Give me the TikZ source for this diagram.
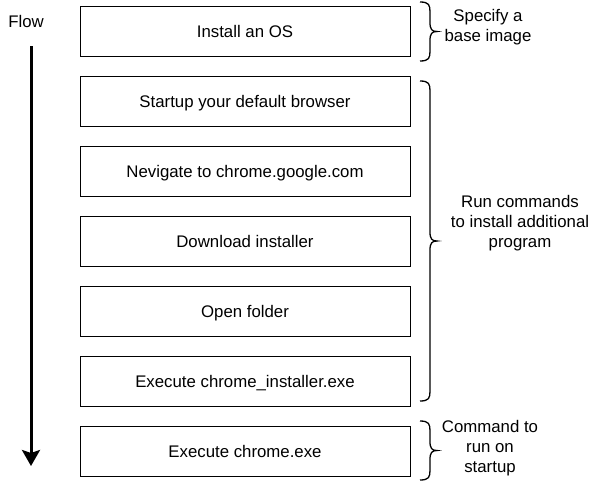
\documentclass[tikz,border=0pt]{standalone}
\usepackage{fontspec}
\setmainfont{Liberation Sans}
\usetikzlibrary{arrows.meta}
\tikzset{
  stepbox/.style={draw=black, line width=1pt, minimum width=330pt, minimum height=50pt, inner sep=0pt, text height=12pt, text depth=0pt, font=\fontsize{16.8pt}{20pt}\selectfont},
  lbl/.style={align=center, font=\fontsize{16.8pt}{20pt}\selectfont, inner sep=0pt},
  bracestyle/.style={draw=black, line width=1.3pt},
}
\newcommand{\mybrace}[3]{% x, ytop, ybot
  \pgfmathsetmacro{\ym}{(#2+#3)/2}
  \draw[bracestyle] (#1,#2) .. controls (#1+9,#2) and (#1+10,#2+3) .. (#1+10,#2+10)
    -- (#1+10,\ym-9) .. controls (#1+10,\ym-2) and (#1+12,\ym) .. (#1+17,\ym)
    .. controls (#1+12,\ym) and (#1+10,\ym+2) .. (#1+10,\ym+9)
    -- (#1+10,#3-10) .. controls (#1+10,#3-3) and (#1+9,#3) .. (#1,#3);
}
\begin{document}
\begin{tikzpicture}[x=1pt,y=-1pt]
\useasboundingbox (0,0) rectangle (601,482);
\node[stepbox] (b1) at (245,31) {Install an OS};
\node[stepbox] (b2) at (245,101) {Startup your default browser};
\node[stepbox] (b3) at (245,171) {Nevigate to chrome.google.com};
\node[stepbox] (b4) at (245,241) {Download installer};
\node[stepbox] (b5) at (245,311) {Open folder};
\node[stepbox] (b6) at (245,381) {Execute chrome\_installer.exe};
\node[stepbox] (b7) at (245,451) {Execute chrome.exe};
\node[lbl] (flow) at (26,21) {Flow};
\coordinate (astart) at (31,46);
\coordinate (aend) at (31,466);
\draw[line width=3pt, -{Stealth[width=18pt,length=16pt,inset=3pt]}] (astart) -- (aend);
\mybrace{420}{2}{61}
\mybrace{420}{81}{401}
\mybrace{420}{421}{480}
\node[lbl] (l1) at (488,27) {Specify a\\base image};
\node[lbl] (l2) at (520,223) {Run commands\\to install additional\\program};
\node[lbl] (l3) at (490,448) {Command to\\run on\\startup};
\end{tikzpicture}
\end{document}
